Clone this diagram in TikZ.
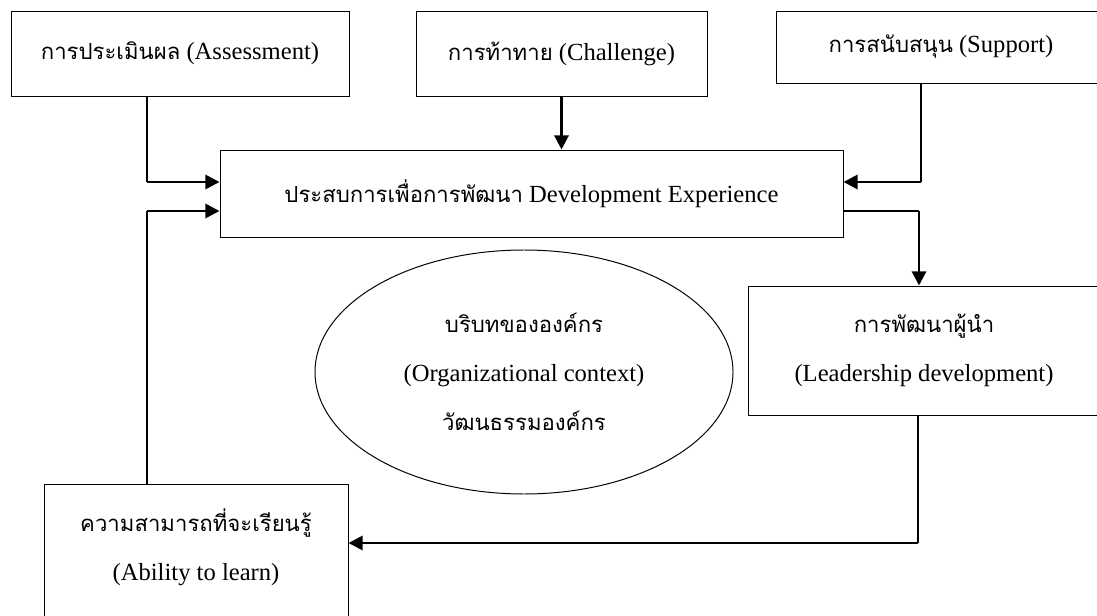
\documentclass[tikz,border=0pt]{standalone}
\usepackage{fontspec}
\setmainfont{Liberation Serif}
\newfontfamily\thaifont[Script=Thai,Scale=0.9]{Loma}
\newcommand{\thai}[1]{{\thaifont #1}}
\usetikzlibrary{arrows.meta, shapes.geometric}
\newlength{\px}
\setlength{\px}{0.025cm}
\tikzset{every node/.style={align=center, font=\fontsize{17.5}{35}\selectfont}}
\tikzset{box/.style={draw, line width=0.7pt, inner sep=0pt}}
\tikzset{line/.style={line width=1.2pt, black}}
\tikzset{link/.style={line width=2pt, black, -{Triangle[length=10pt, width=10pt]}}}

\begin{document}
\begin{tikzpicture}[x=0.025cm, y=-0.025cm]

		% Frame
		\useasboundingbox (0,0) rectangle (1097,616);
		\clip (0,0) rectangle (1097,616);

		% Coordinates
		%% Corners
		\coordinate (c1) at (147,182);
		\coordinate (c2) at (147,211);
		\coordinate (c3) at (921,182);
		\coordinate (c4) at (919,211);
		\coordinate (c5) at (918,543);

		% Boxes
		\node[box, minimum width=338\px, minimum height=85\px] (assess) at (180,53.5) {\thai{การประเมินผล} (Assessment)};
		\node[box, minimum width=291\px, minimum height=85\px] (challenge) at (561.5,53.5) {\thai{การท้าทาย} (Challenge)};
		\node[box, minimum width=330\px, minimum height=72\px] (support) at (941,47) {\thai{การสนับสนุน} (Support)};
		\node[box, minimum width=623\px, minimum height=87\px] (exp) at (531.5,193.5) {\thai{ประสบการเพื่อการพัฒนา} Development Experience};
		\node[box, minimum width=352\px, minimum height=129\px] (lead) at (924,350.5) {\thai{การพัฒนาผู้นำ}\\(Leadership development)};
		\node[box, minimum width=304\px, minimum height=160\px, anchor=north] (ability) at (196,484) {};
		\node (abilitytext) at (196,547.5) {\thai{ความสามารถที่จะเรียนรู้}\\(Ability to learn)};

		% Context
		\node[box, ellipse, minimum width=418\px, minimum height=244\px] (ctx) at (524,372) {\thai{บริบทขององค์กร}\\(Organizational context)\\\thai{วัฒนธรรมองค์กร}};

		% Arrows
		\draw[line] (assess.south -| c1) -- (c1);
		\draw[link] (c1) -- (c1 -| exp.west);
		\draw[line] (ability.north -| c2) -- (c2);
		\draw[link] (c2) -- (c2 -| exp.west);
		\draw[link] (challenge.south) -- (challenge.south |- exp.north);
		\draw[line] (support.south -| c3) -- (c3);
		\draw[link] (c3) -- (c3 -| exp.east);
		\draw[line] (c4 -| exp.east) -- (c4);
		\draw[link] (c4) -- (c4 |- lead.north);
		\draw[line] (lead.south -| c5) -- (c5);
		\draw[link] (c5) -- (c5 -| ability.east);
	\end{tikzpicture}
\end{document}
